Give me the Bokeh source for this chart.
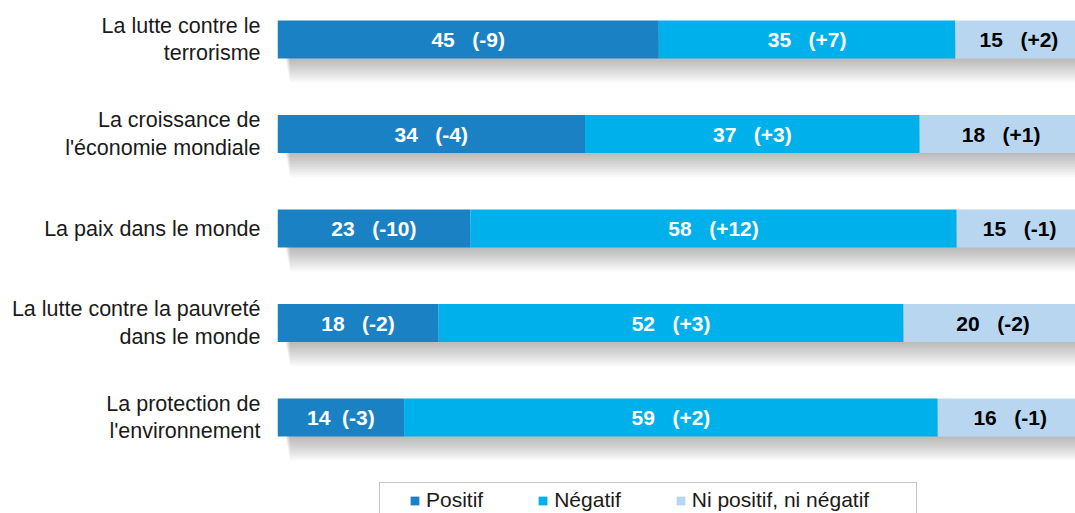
from bokeh.plotting import figure
from bokeh.models import ColumnDataSource, FixedTicker, Legend, LegendItem, BoxAnnotation, Range1d
from bokeh.core.properties import value
from bokeh.embed import file_html
from bokeh.resources import INLINE

categories = [
    "La lutte contre le\nterrorisme",
    "La croissance de\nl'économie mondiale",
    "La paix dans le monde",
    "La lutte contre la pauvreté\ndans le monde",
    "La protection de\nl'environnement",
]
positif = [45, 34, 23, 18, 14]
negatif = [35, 37, 58, 52, 59]
ni_pos_ni_neg = [15, 18, 15, 20, 16]
positif_chg = ["-9", "-4", "-10", "-2", "-3"]
negatif_chg = ["+7", "+3", "+12", "+3", "+2"]
ni_chg = ["+2", "+1", "-1", "-2", "-1"]
series_names = ["Positif", "Négatif", "Ni positif, ni négatif"]
colors = ["#1B81C5", "#00B0EB", "#B9D6F1"]
text_colors = ["white", "white", "black"]

n = len(categories)
ys = [n - i for i in range(n)]
series = [positif, negatif, ni_pos_ni_neg]
changes = [positif_chg, negatif_chg, ni_chg]

totals = [sum(s[i] for s in series) for i in range(n)]

FONT = "Liberation Sans"
PX_PER_UNIT = 94.5
BAR_H = 38 / PX_PER_UNIT
NB = "\u00a0"

p = figure(width=1075, height=513, x_range=Range1d(0, 99.13), y_range=Range1d(-0.016, 5.413),
           output_backend="svg", toolbar_location=None, x_axis_location=None,
           min_border_left=277, min_border_right=0, min_border_top=0, min_border_bottom=0)
p.outline_line_color = None
p.xgrid.visible = False
p.ygrid.visible = False
p.background_fill_color = "white"

# soft drop shadow under each bar
for k, off in enumerate(range(2, 26, 2)):
    p.hbar(y=[y - off / PX_PER_UNIT for y in ys], left=1.0 + k * 0.05, right=100, height=BAR_H,
           fill_color="black", fill_alpha=0.024, line_color=None)

renderers = []
lefts = [0.0] * n
for s, vals, chg, col, tcol in zip(series_names, series, changes, colors, text_colors):
    pct = [vals[i] / totals[i] * 100 for i in range(n)]
    rights = [lefts[i] + pct[i] for i in range(n)]
    centers = [(lefts[i] + rights[i]) / 2 for i in range(n)]
    labels = [f"{vals[i]}{NB * (2 if vals[i] < 15 else 3)}({chg[i]})" for i in range(n)]
    src = ColumnDataSource(dict(y=ys, left=lefts, right=rights, xc=centers, lab=labels))
    r = p.hbar(y="y", left="left", right="right", height=BAR_H, fill_color=col,
               line_color=None, source=src)
    renderers.append(r)
    p.text(x="xc", y="y", text="lab", source=src, text_align="center", text_baseline="middle",
           text_font=value(FONT), text_font_style="bold", text_font_size="21px", text_color=tcol)
    lefts = rights

ax = p.yaxis[0]
ax.ticker = FixedTicker(ticks=ys)
ax.major_label_overrides = {y: c for y, c in zip(ys, categories)}
ax.axis_line_color = None
ax.major_tick_line_color = None
ax.minor_tick_line_color = None
ax.major_tick_out = 0
ax.major_tick_in = 0
ax.major_label_standoff = 17
ax.major_label_text_font = FONT
ax.major_label_text_font_size = "21.5px"
ax.major_label_text_line_height = 1.15
ax.major_label_text_color = "#1a1a1a"

legend = Legend(items=[LegendItem(label=nm, renderers=[r]) for nm, r in zip(series_names, renderers)],
                orientation="horizontal", location=(126, -5), border_line_alpha=0,
                background_fill_alpha=0, glyph_width=11, glyph_height=11, label_standoff=6,
                spacing=54, padding=6, margin=0, label_text_font=FONT, label_text_font_size="21px",
                label_text_color="#1a1a1a", label_height=20)
p.add_layout(legend)

box = BoxAnnotation(left=379, right=916, top=482, bottom=540,
                    left_units="canvas", right_units="canvas", top_units="canvas", bottom_units="canvas",
                    fill_alpha=0, line_color="#404040", line_width=1)
p.add_layout(box)

open("out.html", "w").write(file_html(p, INLINE))
